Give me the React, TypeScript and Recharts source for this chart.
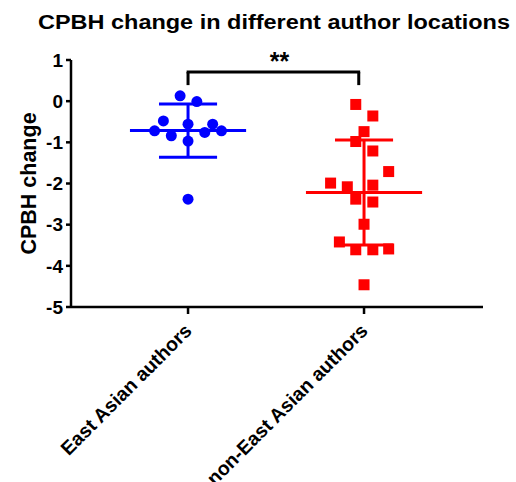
import {
  ScatterChart, Scatter, XAxis, YAxis, ReferenceLine,
} from 'recharts';

// group names on the x axis (positions 1 and 2)
const groups = ['East Asian authors', 'non-East Asian authors'];

// CPBH change per study
const eastAsianValues = [0.13, -0.01, -0.48, -0.56, -0.56, -0.72, -0.84, -0.76, -0.72, -0.97, -2.38];
const eastAsianJitter = [-0.045, 0.05, -0.14, 0, 0.14, -0.19, -0.095, 0.095, 0.19, 0, 0];

const nonEastAsianValues = [
  -0.08, -0.36, -0.74, -0.98, -1.21, -1.71, -1.99, -2.08, -2.04,
  -2.38, -2.45, -2.99, -3.42, -3.61, -3.61, -3.59, -4.46,
];
const nonEastAsianJitter = [
  -0.047, 0.05, 0, -0.047, 0.05, 0.14, -0.19, -0.095, 0.05,
  -0.047, 0.05, 0, -0.14, -0.047, 0.05, 0.14, 0,
];

const yTicks = [1, 0, -1, -2, -3, -4, -5];

// significance bracket between the groups
const bracketX = [1, 1.97];
const bracketTop = 0.71;
const bracketBottom = 0.39;
const significance = '**';

const BLUE = '#0000ff';
const RED = '#ff0000';
const FONT = 'Liberation Sans, Arial, sans-serif';

const toPoints = (values: number[], jitter: number[], group: number) =>
  values.map((v, i) => ({ x: group + jitter[i], y: v }));

const stats = (values: number[]) => {
  const mean = values.reduce((a, b) => a + b, 0) / values.length;
  const sd = Math.sqrt(values.reduce((a, b) => a + (b - mean) ** 2, 0) / (values.length - 1));
  return { mean, sd };
};

const eastPoints = toPoints(eastAsianValues, eastAsianJitter, 1);
const nonEastPoints = toPoints(nonEastAsianValues, nonEastAsianJitter, 2);

function MeanSd({ values, group, color }: { values: number[]; group: number; color: string }) {
  const { mean, sd } = stats(values);
  const w = 0.33;
  const cap = 0.165;
  const common = { stroke: color, strokeWidth: 3, ifOverflow: 'visible' as const };
  return [
    <ReferenceLine key="m" {...common} segment={[{ x: group - w, y: mean }, { x: group + w, y: mean }]} />,
    <ReferenceLine key="v" {...common} segment={[{ x: group, y: mean - sd }, { x: group, y: mean + sd }]} />,
    <ReferenceLine key="t" {...common} segment={[{ x: group - cap, y: mean + sd }, { x: group + cap, y: mean + sd }]} />,
    <ReferenceLine key="b" {...common} segment={[{ x: group - cap, y: mean - sd }, { x: group + cap, y: mean - sd }]} />,
  ];
}

const XTick = ({ x, y, payload }: any) => {
  const tx = x + 5;
  const ty = y + 16;
  return (
    <text
      x={tx}
      y={ty}
      transform={`rotate(-45, ${tx}, ${ty})`}
      textAnchor="end"
      fontFamily={FONT}
      fontWeight="bold"
      fontSize={19.5}
      fill="#000"
    >
      {groups[payload.value - 1]}
    </text>
  );
};

export default function App() {
  return (
    <div style={{ position: 'absolute', left: 0, top: 0, width: 516, height: 482, background: '#fff' }}>
      <svg width={516} height={40} style={{ position: 'absolute', left: 0, top: 0 }}>
        <text
          x={38}
          y={29}
          textLength={472}
          lengthAdjust="spacingAndGlyphs"
          fontFamily={FONT}
          fontWeight="bold"
          fontSize={20}
          fill="#000"
        >
          CPBH change in different author locations
        </text>
      </svg>
      <div style={{ position: 'absolute', left: 0, top: 0 }}>
        <ScatterChart width={516} height={482} margin={{ top: 60, right: 33, bottom: 115, left: 21 }}>
          <XAxis
            type="number"
            dataKey="x"
            domain={[0.335, 2.676]}
            ticks={[1, 2]}
            allowDataOverflow
            height={60}
            tick={<XTick />}
            tickSize={7}
            axisLine={{ stroke: '#000', strokeWidth: 2.5 }}
            tickLine={{ stroke: '#000', strokeWidth: 2.5 }}
          />
          <YAxis
            type="number"
            dataKey="y"
            domain={[-5, 1]}
            ticks={yTicks}
            interval={0}
            width={50}
            tickSize={5}
            tickMargin={3}
            axisLine={{ stroke: '#000', strokeWidth: 2.5 }}
            tickLine={{ stroke: '#000', strokeWidth: 2.5 }}
            tick={{ fill: '#000', fontSize: 19, fontWeight: 'bold', fontFamily: FONT }}
            label={{
              value: 'CPBH change',
              angle: -90,
              position: 'insideLeft',
              offset: 7,
              style: { textAnchor: 'middle', fill: '#000', fontSize: 21.5, fontWeight: 'bold', fontFamily: FONT },
            }}
          />
          {MeanSd({ values: eastAsianValues, group: 1, color: BLUE })}
          {MeanSd({ values: nonEastAsianValues, group: 2, color: RED })}
          <ReferenceLine
            segment={[{ x: bracketX[0], y: bracketBottom }, { x: bracketX[0], y: bracketTop }]}
            stroke="#000" strokeWidth={3} ifOverflow="visible"
          />
          <ReferenceLine
            segment={[{ x: bracketX[1], y: bracketBottom }, { x: bracketX[1], y: bracketTop }]}
            stroke="#000" strokeWidth={3} ifOverflow="visible"
          />
          <ReferenceLine
            segment={[{ x: bracketX[0] - 0.008, y: bracketTop }, { x: bracketX[1] + 0.008, y: bracketTop }]}
            stroke="#000" strokeWidth={3} ifOverflow="visible"
            label={{ value: significance, position: 'top', dx: 6, offset: 2, fill: '#000', fontSize: 25, fontWeight: 'bold', fontFamily: FONT }}
          />
          <Scatter
            data={eastPoints}
            fill={BLUE}
            isAnimationActive={false}
            shape={(p: any) => <circle cx={p.cx} cy={p.cy} r={5.5} fill={BLUE} />}
          />
          <Scatter
            data={nonEastPoints}
            fill={RED}
            isAnimationActive={false}
            shape={(p: any) => <rect x={p.cx - 5.5} y={p.cy - 5.5} width={11} height={11} fill={RED} />}
          />
        </ScatterChart>
      </div>
    </div>
  );
}
